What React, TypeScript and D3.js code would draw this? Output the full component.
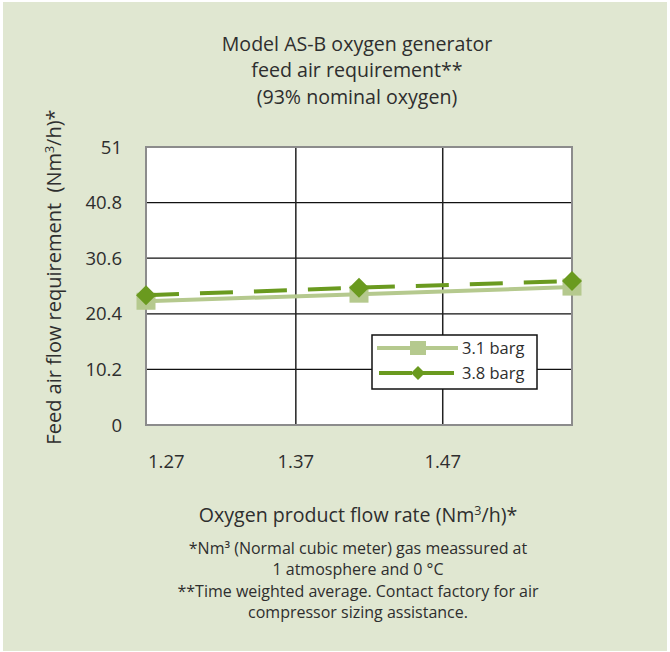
import React from "react";
import * as d3 from "d3";

const xValues = [1.268, 1.413, 1.558];
const series31 = [22.7, 24.0, 25.3];
const series38 = [23.8, 25.2, 26.4];
const yTicks = [0, 10.2, 20.4, 30.6, 40.8, 51];
const xTickLabels = ["1.27", "1.37", "1.47"];
const xTickValues = [1.268, 1.37, 1.47];
const xGridValues = [1.37, 1.47];
const titleLines = ["Model AS-B oxygen generator", "feed air requirement**", "(93% nominal oxygen)"];
const footLines = [
  "*Nm³ (Normal cubic meter) gas meassured at",
  "1 atmosphere and 0 °C",
  "**Time weighted average. Contact factory for air",
  "compressor sizing assistance.",
];

const BG = "#e0e7d1";
const LIGHT = "#b5c98e";
const DARK = "#6a9a1f";
const TXT = "#2e2e2e";
const FONT = "'Open Sans', Roboto, sans-serif";

export default function App() {
  const left = 146, right = 572, top = 147, bottom = 425;
  const x = d3.scaleLinear().domain([1.268, 1.558]).range([left, right]);
  const y = d3.scaleLinear().domain([0, 51]).range([bottom, top]);
  const line = d3
    .line<number>()
    .x((_, i) => x(xValues[i]))
    .y((d) => y(d));

  const sq = 19;
  const diamond = (cx: number, cy: number) =>
    `M${cx},${cy - 10}L${cx + 10},${cy}L${cx},${cy + 10}L${cx - 10},${cy}Z`;

  const legX = 372, legY = 335, legW = 165, legH = 54;

  return (
    <svg
      width={670}
      height={652}
      style={{ position: "absolute", left: 0, top: 0 }}
      fontFamily={FONT}
    >
      <rect x={3} y={2} width={664} height={649} fill={BG} />
      {titleLines.map((t, i) => (
        <text key={i} x={357} y={51 + i * 26.3} textAnchor="middle" fontSize={19.6} fill={TXT}>
          {t}
        </text>
      ))}
      <rect x={left} y={top} width={right - left} height={bottom - top} fill="#fff" />
      {yTicks.map((v) => (
        <line key={v} x1={left} x2={right} y1={y(v)} y2={y(v)} stroke="#111" strokeWidth={1.2} />
      ))}
      {xGridValues.map((v) => (
        <line key={v} x1={x(v)} x2={x(v)} y1={top} y2={bottom} stroke="#222" strokeWidth={1.5} />
      ))}
      <rect
        x={left}
        y={top}
        width={right - left}
        height={bottom - top}
        fill="none"
        stroke="#8c8c8c"
        strokeWidth={2}
      />
      {yTicks.map((v) => (
        <text key={v} x={122} y={y(v) + 6.5} textAnchor="end" fontSize={18.5} fill={TXT}>
          {String(v)}
        </text>
      ))}
      {xTickValues.map((v, i) => (
        <text
          key={i}
          x={i === 0 ? x(v) + 2 : x(v)}
          y={468}
          textAnchor={i === 0 ? "start" : "middle"}
          fontSize={18.5}
          fill={TXT}
        >
          {xTickLabels[i]}
        </text>
      ))}
      {/* series 3.1 barg */}
      <path d={line(series31) ?? ""} fill="none" stroke={LIGHT} strokeWidth={4} />
      {series31.map((v, i) => (
        <rect key={i} x={x(xValues[i]) - sq / 2} y={y(v) - sq / 2 + 1} width={sq} height={sq - 2} fill={LIGHT} />
      ))}
      {/* series 3.8 barg */}
      <path
        d={line(series38) ?? ""}
        fill="none"
        stroke={DARK}
        strokeWidth={4}
        strokeDasharray="33,21"
      />
      {series38.map((v, i) => (
        <path key={i} d={diamond(x(xValues[i]), y(v))} fill={DARK} />
      ))}
      {/* legend */}
      <rect x={legX} y={legY} width={legW} height={legH} fill="#fff" stroke="#111" strokeWidth={1.5} />
      <line x1={377} x2={458} y1={348} y2={348} stroke={LIGHT} strokeWidth={4} />
      <rect x={418 - 8} y={348 - 7} width={16} height={14} fill={LIGHT} />
      <text x={462} y={354} fontSize={16.5} fill={TXT}>3.1 barg</text>
      <line x1={379} x2={456} y1={373} y2={373} stroke={DARK} strokeWidth={4} strokeDasharray="33,9" />
      <path d={`M418,366L425,373L418,380L411,373Z`} fill={DARK} />
      <text x={462} y={379} fontSize={16.5} fill={TXT}>3.8 barg</text>
      {/* axis titles */}
      <text
        transform={`translate(61,277) rotate(-90)`}
        textAnchor="middle"
        fontSize={20}
        fill={TXT}
      >
        Feed air flow requirement{"\u00a0\u00a0"}(Nm<tspan fontSize={12.5} dy={-7}>3</tspan>
        <tspan dy={7}>/h)*</tspan>
      </text>
      <text x={358} y={522} textAnchor="middle" fontSize={19.6} fill={TXT}>
        Oxygen product flow rate (Nm<tspan fontSize={12.5} dy={-7}>3</tspan>
        <tspan dy={7}>/h)*</tspan>
      </text>
      {footLines.map((t, i) => (
        <text key={i} x={358} y={554 + i * 21.3} textAnchor="middle" fontSize={16} fill={TXT}>
          {t}
        </text>
      ))}
    </svg>
  );
}
